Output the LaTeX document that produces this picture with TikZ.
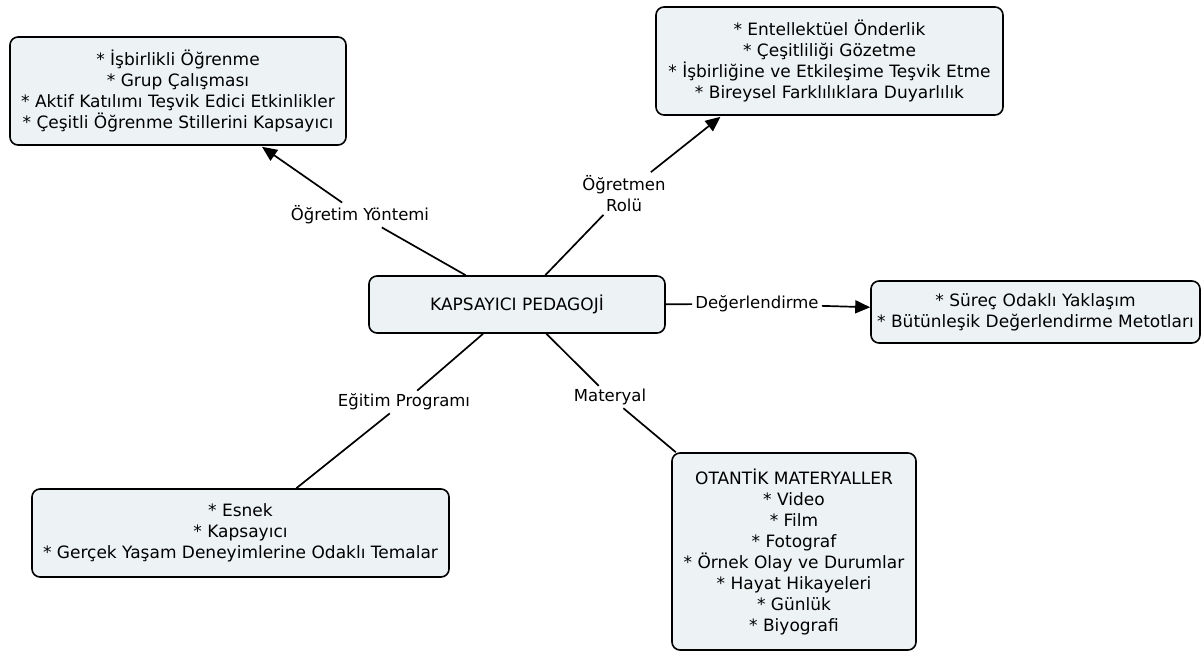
\documentclass[tikz,border=0pt]{standalone}
\usepackage{fontspec}
\setmainfont{DejaVu Sans}
\usetikzlibrary{arrows.meta,calc}
\definecolor{boxfill}{HTML}{EDF3F5}
\begin{document}
\begin{tikzpicture}[x=1pt,y=-1pt,
  concept/.style={draw=black,line width=1.6pt,rounded corners=8pt,fill=boxfill,align=center,inner sep=0pt,font=\fontsize{17}{21}\selectfont},
  linklabel/.style={align=center,inner sep=3pt,font=\fontsize{16.5}{21}\selectfont},
  conn/.style={line width=1.7pt,draw=black},
  arr/.style={conn,-{Triangle[length=15pt,width=13pt]}}
]
\useasboundingbox (0,0) rectangle (1202,654);
\node[concept,minimum width=336pt,minimum height=108pt] (tl) at (178,91)
  {* İşbirlikli Öğrenme\\* Grup Çalışması\\* Aktif Katılımı Teşvik Edici Etkinlikler\\* Çeşitli Öğrenme Stillerini Kapsayıcı};
\node[concept,minimum width=347pt,minimum height=108pt] (tr) at (829.5,61)
  {* Entellektüel Önderlik\\* Çeşitliliği Gözetme\\* İşbirliğine ve Etkileşime Teşvik Etme\\* Bireysel Farklılıklara Duyarlılık};
\node[concept,minimum width=296pt,minimum height=57pt] (c) at (517,304.5) {KAPSAYICI PEDAGOJİ};
\node[concept,minimum width=329pt,minimum height=62pt] (r) at (1035.5,312) {* Süreç Odaklı Yaklaşım\\* Bütünleşik Değerlendirme Metotları};
\node[concept,minimum width=417pt,minimum height=88pt] (bl) at (240.5,533) {* Esnek\\* Kapsayıcı\\* Gerçek Yaşam Deneyimlerine Odaklı Temalar};
\node[concept,minimum width=244pt,minimum height=197pt] (br) at (794,551.5)
  {OTANTİK MATERYALLER\\* Video\\* Film\\* Fotograf\\* Örnek Olay ve Durumlar\\* Hayat Hikayeleri\\* Günlük\\* Biyografi};
\node[linklabel] (l1) at (360,215) {Öğretim Yöntemi};
\node[linklabel] (l2) at (624,193.5) {Öğretmen\\Rolü};
\node[linklabel] (l3) at (757,304) {Değerlendirme};
\node[linklabel] (l4) at (404,402) {Eğitim Programı};
\node[linklabel] (l5) at (610,397) {Materyal};
\coordinate (t1) at ($(tl.south)+(84,1)$);
\coordinate (t2) at ($(tr.south)+(-109,1)$);
\draw[conn] (c) -- (l1);
\draw[arr] (l1) -- (t1);
\draw[conn] (c) -- (l2);
\draw[arr] (l2) -- (t2);
\draw[conn] (c) -- (l3);
\draw[arr] (l3) -- (r);
\draw[conn] (c) -- (l4);
\draw[conn] (l4) -- (bl);
\draw[conn] (c) -- (l5);
\draw[conn] (l5) -- (br);
\end{tikzpicture}
\end{document}
